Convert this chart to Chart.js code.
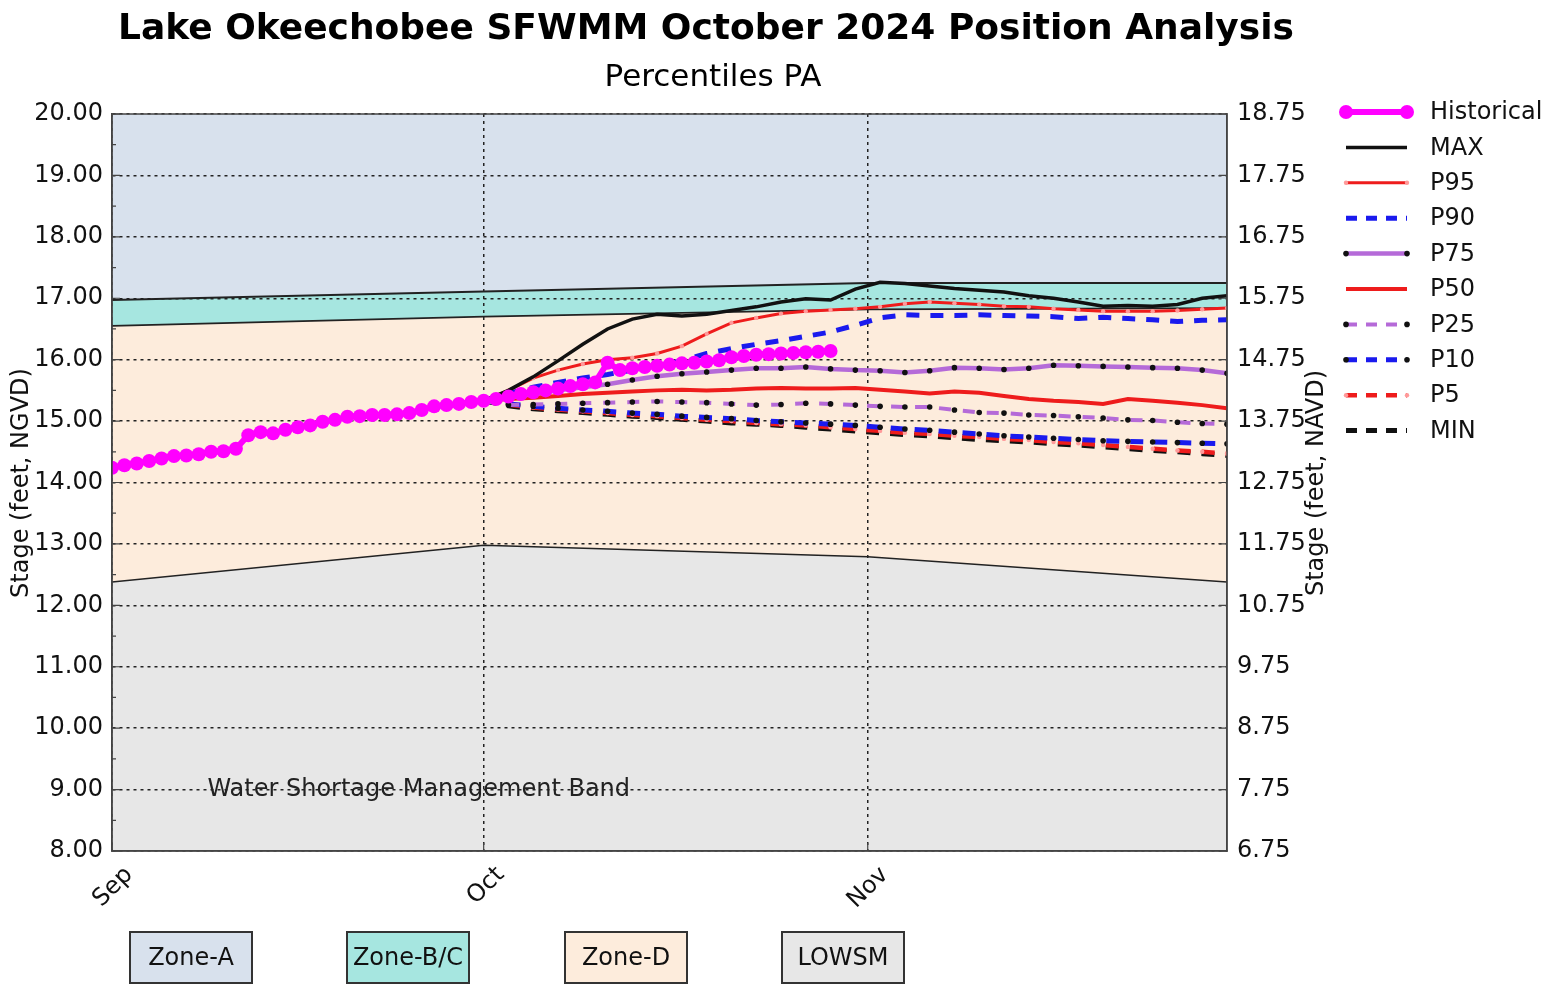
<!DOCTYPE html>
<html>
<head>
<meta charset="utf-8">
<script src="https://cdn.jsdelivr.net/npm/chart.js@4.4.1/dist/chart.umd.min.js"></script>
<style>
html,body{margin:0;padding:0;background:#ffffff;}
#wrap{position:relative;width:1559px;height:985px;}
</style>
</head>
<body>
<div id="wrap"><canvas id="c" width="1559" height="985"></canvas></div>
<script>
// ---------------- DATA ----------------
const monthTickDays = [0, 30, 61];
const monthTickLabels = ['Sep', 'Oct', 'Nov'];
const leftTicks = [8, 9, 10, 11, 12, 13, 14, 15, 16, 17, 18, 19, 20];
const rightTicks = [6.75, 7.75, 8.75, 9.75, 10.75, 11.75, 12.75, 13.75, 14.75, 15.75, 16.75, 17.75, 18.75];

// zone boundaries (day index from Sep 1)
const zoneDays = [0, 30, 61, 90];
const lowsmTop = [12.38, 12.98, 12.79, 12.38];
const zoneDTop = [16.55, 16.70, 16.82, 16.84];
const zoneBCTop = [16.97, 17.11, 17.25, 17.25];
const zoneATop = [20, 20, 20, 20];
const zoneNames = ['Zone-A', 'Zone-B/C', 'Zone-D', 'LOWSM'];

// historical stage (daily, Sep 1 = day 0)
const histDays = [0,1,2,3,4,5,6,7,8,9,10,11,12,13,14,15,16,17,18,19,20,21,22,23,24,25,26,27,28,29,30,
  31,32,33,34,35,36,37,38,39,40,41,42,43,44,45,46,47,48,49,50,51,52,53,54,55,56,57,58];
const histValues = [14.24,14.28,14.31,14.35,14.39,14.43,14.44,14.46,14.50,14.51,14.55,14.77,14.82,14.80,14.86,
  14.90,14.93,14.99,15.02,15.07,15.08,15.10,15.10,15.11,15.13,15.18,15.24,15.26,15.28,15.31,15.33,
  15.36,15.40,15.44,15.47,15.50,15.53,15.57,15.60,15.63,15.95,15.83,15.86,15.88,15.90,15.92,15.94,
  15.95,15.97,15.99,16.04,16.06,16.08,16.09,16.10,16.11,16.12,16.13,16.14];

// position analysis percentiles (every 2 days from Oct 1)
const forecastDays = [30,32,34,36,38,40,42,44,46,48,50,52,54,56,58,60,62,64,66,68,70,72,74,76,78,80,82,84,86,88,90];
const maxVals = [15.33,15.50,15.72,15.98,16.25,16.50,16.66,16.74,16.71,16.74,16.80,16.86,16.94,16.99,16.97,17.15,
  17.26,17.24,17.20,17.16,17.13,17.10,17.04,17.00,16.94,16.87,16.88,16.87,16.90,17.00,17.04];
const p95Vals = [15.33,15.50,15.70,15.83,15.93,16.00,16.03,16.10,16.22,16.42,16.60,16.68,16.75,16.79,16.81,16.83,
  16.86,16.91,16.94,16.92,16.90,16.87,16.86,16.83,16.81,16.79,16.79,16.79,16.80,16.82,16.84];
const p90Vals = [15.33,15.45,15.55,15.63,15.70,15.76,15.83,15.90,15.98,16.10,16.18,16.25,16.31,16.38,16.45,16.56,
  16.68,16.73,16.72,16.72,16.73,16.72,16.71,16.70,16.67,16.69,16.67,16.65,16.62,16.64,16.65];
const p75Vals = [15.33,15.38,15.44,15.50,15.55,15.60,15.67,15.73,15.77,15.80,15.83,15.86,15.86,15.88,15.85,15.83,
  15.82,15.79,15.82,15.87,15.86,15.84,15.86,15.91,15.90,15.89,15.88,15.87,15.86,15.83,15.78];
const p50Vals = [15.33,15.36,15.38,15.41,15.44,15.46,15.48,15.50,15.51,15.50,15.51,15.53,15.54,15.53,15.53,15.54,
  15.51,15.48,15.45,15.48,15.46,15.41,15.36,15.33,15.31,15.28,15.36,15.33,15.30,15.26,15.21];
const p25Vals = [15.33,15.26,15.27,15.28,15.29,15.30,15.31,15.32,15.31,15.30,15.28,15.26,15.27,15.29,15.28,15.26,
  15.24,15.23,15.23,15.18,15.14,15.13,15.10,15.09,15.07,15.05,15.02,15.01,14.98,14.96,14.95];
const p10Vals = [15.33,15.28,15.24,15.21,15.18,15.16,15.13,15.11,15.08,15.06,15.04,15.01,14.99,14.97,14.95,14.93,
  14.90,14.87,14.85,14.82,14.79,14.76,14.74,14.72,14.70,14.68,14.67,14.66,14.65,14.64,14.63];
const p5Vals = [15.33,15.27,15.22,15.19,15.16,15.13,15.10,15.08,15.05,15.02,15.00,14.97,14.95,14.93,14.90,14.87,
  14.84,14.81,14.79,14.76,14.74,14.71,14.69,14.66,14.64,14.61,14.58,14.55,14.52,14.50,14.47];
const minVals = [15.33,15.25,15.20,15.17,15.14,15.11,15.08,15.06,15.03,15.00,14.97,14.95,14.93,14.90,14.87,14.84,
  14.81,14.78,14.76,14.73,14.70,14.68,14.66,14.63,14.61,14.58,14.55,14.52,14.50,14.47,14.44];

// ---------------- STYLE / BUILD ----------------
const FONT = '"DejaVu Sans", "Liberation Sans", sans-serif';
const RED = '#ee1c1c', BLUE = '#1a1aee', PURPLE = '#b56ad8', BLACK = '#111111', MAGENTA = '#ff00ff';
const zoneColors = ['#d8e1ed', '#a6e6e0', '#fdecdc', '#e7e7e7'];

const pts = (xs, ys) => xs.map((x, i) => ({x: x, y: ys[i]}));

function series(label, xs, ys, color, width, dash, ptRadius, ptColor) {
  return {
    label, data: pts(xs, ys), borderColor: color, borderWidth: width, borderDash: dash || [],
    pointRadius: ptRadius || 0, pointBackgroundColor: ptColor || color, pointBorderWidth: 0,
    pointHoverRadius: 0, fill: false, tension: 0, isSeries: true
  };
}
function zone(xs, ys, fillTo, color, bw) {
  return {
    label: '', data: pts(xs, ys), borderColor: '#222', borderWidth: bw, pointRadius: 0,
    fill: fillTo, backgroundColor: color, tension: 0, isSeries: false
  };
}

const datasets = [
  series('Historical', histDays, histValues, MAGENTA, 6, [], 7, MAGENTA),
  series('MAX', forecastDays, maxVals, BLACK, 3.5),
  series('P95', forecastDays, p95Vals, RED, 3, [], 2.2, '#ff9a9a'),
  series('P90', forecastDays, p90Vals, BLUE, 5, [13, 11]),
  series('P75', forecastDays, p75Vals, PURPLE, 4.5, [], 2.8, BLACK),
  series('P50', forecastDays, p50Vals, RED, 4),
  series('P25', forecastDays, p25Vals, PURPLE, 4, [12, 12], 2.8, BLACK),
  series('P10', forecastDays, p10Vals, BLUE, 5, [13, 11], 2.8, BLACK),
  series('P5', forecastDays, p5Vals, RED, 4.5, [13, 11], 2.2, '#ff9a9a'),
  series('MIN', forecastDays, minVals, BLACK, 5, [13, 11]),
  zone(zoneDays, lowsmTop, 'start', zoneColors[3], 1.5),
  zone(zoneDays, zoneDTop, '-1', zoneColors[2], 1.8),
  zone(zoneDays, zoneBCTop, '-1', zoneColors[1], 2),
  zone(zoneDays, zoneATop, '-1', zoneColors[0], 0)
];

const decor = {
  id: 'decor',
  afterDraw(chart) {
    const ctx = chart.ctx;
    const a = chart.chartArea;
    const xs = chart.scales.x, ys = chart.scales.y, ys2 = chart.scales.y2;
    ctx.save();
    // frame
    ctx.strokeStyle = '#444'; ctx.lineWidth = 1.5;
    ctx.strokeRect(a.left, a.top, a.right - a.left, a.bottom - a.top);

    // inward tick marks
    ctx.strokeStyle = '#444'; ctx.lineWidth = 1.2;
    ctx.beginPath();
    leftTicks.forEach((v, i) => {
      const y = ys.getPixelForValue(v);
      ctx.moveTo(a.left, y); ctx.lineTo(a.left + 8, y);
      if (i < leftTicks.length - 1) {
        const ym = ys.getPixelForValue((v + leftTicks[i + 1]) / 2);
        ctx.moveTo(a.left, ym); ctx.lineTo(a.left + 4, ym);
      }
    });
    rightTicks.forEach(v => {
      const y = ys2.getPixelForValue(v);
      ctx.moveTo(a.right, y); ctx.lineTo(a.right - 8, y);
    });
    monthTickDays.forEach(v => {
      const x = xs.getPixelForValue(v);
      ctx.moveTo(x, a.bottom); ctx.lineTo(x, a.bottom - 8);
    });
    ctx.stroke();

    // band label
    ctx.fillStyle = '#222';
    ctx.font = '24px ' + FONT;
    ctx.textAlign = 'left'; ctx.textBaseline = 'middle';
    ctx.fillText('Water Shortage Management Band', xs.getPixelForValue(7.7), ys.getPixelForValue(9.0));

    // titles
    ctx.fillStyle = '#000';
    ctx.textAlign = 'center';
    ctx.font = 'bold 36px ' + FONT;
    ctx.fillText('Lake Okeechobee SFWMM October 2024 Position Analysis', 706, 30);
    ctx.font = '31px ' + FONT;
    ctx.fillText('Percentiles PA', 713, 78);

    // axis titles
    ctx.font = '24px ' + FONT;
    ctx.fillStyle = '#111';
    [[22, 'Stage (feet, NGVD)'], [1317, 'Stage (feet, NAVD)']].forEach(([x, t]) => {
      ctx.save(); ctx.translate(x, 483); ctx.rotate(-Math.PI / 2);
      ctx.fillText(t, 0, 0); ctx.restore();
    });

    // legend
    const ser = chart.data.datasets.filter(d => d.isSeries);
    ser.forEach((d, i) => {
      const y = 112 + i * 35.4;
      const x1 = 1346, x2 = 1407;
      ctx.save();
      ctx.strokeStyle = d.borderColor; ctx.lineWidth = d.borderWidth;
      ctx.setLineDash(d.borderDash && d.borderDash.length ? [11, 9] : []);
      ctx.beginPath(); ctx.moveTo(x1, y); ctx.lineTo(x2, y); ctx.stroke();
      ctx.setLineDash([]);
      if (d.pointRadius > 0) {
        ctx.fillStyle = d.pointBackgroundColor;
        [x1, x2].forEach(px => { ctx.beginPath(); ctx.arc(px, y, d.pointRadius, 0, Math.PI * 2); ctx.fill(); });
      }
      ctx.restore();
      ctx.fillStyle = '#111'; ctx.font = '24px ' + FONT;
      ctx.textAlign = 'left'; ctx.textBaseline = 'middle';
      ctx.fillText(d.label, 1430, y + 1);
    });

    // zone key boxes
    const bx = [130, 347, 565, 782];
    zoneNames.forEach((n, i) => {
      ctx.fillStyle = zoneColors[i];
      ctx.fillRect(bx[i], 932, 122, 51);
      ctx.strokeStyle = '#333'; ctx.lineWidth = 2;
      ctx.strokeRect(bx[i], 932, 122, 51);
      ctx.fillStyle = '#111'; ctx.font = '24px ' + FONT;
      ctx.textAlign = 'center'; ctx.textBaseline = 'middle';
      ctx.fillText(n, bx[i] + 61, 959);
    });
    ctx.restore();
  }
};

const tickFont = {family: FONT, size: 24};

new Chart(document.getElementById('c'), {
  type: 'line',
  data: {datasets},
  options: {
    responsive: false,
    animation: false,
    devicePixelRatio: 1,
    events: [],
    layout: {padding: {top: 114, left: 0, right: 0, bottom: 0}},
    plugins: {
      legend: {display: false},
      tooltip: {enabled: false},
      title: {display: false},
      filler: {drawTime: 'beforeDraw'}
    },
    scales: {
      x: {
        type: 'linear', min: 0, max: 90,
        afterBuildTicks: s => { s.ticks = monthTickDays.map(v => ({value: v})); },
        afterFit: s => { s.height = 134; },
        ticks: {
          callback: v => monthTickLabels[monthTickDays.indexOf(v)],
          font: tickFont, color: '#111', minRotation: 45, maxRotation: 45, padding: 10,
          labelOffset: 17, autoSkip: false
        },
        grid: {color: '#222', lineWidth: 1.5, drawTicks: false},
        border: {display: true, color: '#444', width: 1.5, dash: [3, 4]}
      },
      y: {
        position: 'left', min: 8, max: 20,
        afterBuildTicks: s => { s.ticks = leftTicks.map(v => ({value: v})); },
        afterFit: s => { s.width = 112; },
        ticks: {callback: v => Number(v).toFixed(2), font: tickFont, color: '#111', padding: 9},
        grid: {color: '#222', lineWidth: 1.5, drawTicks: false},
        border: {display: true, color: '#444', width: 1.5, dash: [3, 4]}
      },
      y2: {
        position: 'right', min: 6.75, max: 18.75,
        afterBuildTicks: s => { s.ticks = rightTicks.map(v => ({value: v})); },
        afterFit: s => { s.width = 332; },
        ticks: {callback: v => Number(v).toFixed(2), font: tickFont, color: '#111', padding: 10},
        grid: {drawOnChartArea: false, drawTicks: false},
        border: {display: true, color: '#444', width: 1.5}
      }
    }
  },
  plugins: [decor]
});
</script>
</body>
</html>
